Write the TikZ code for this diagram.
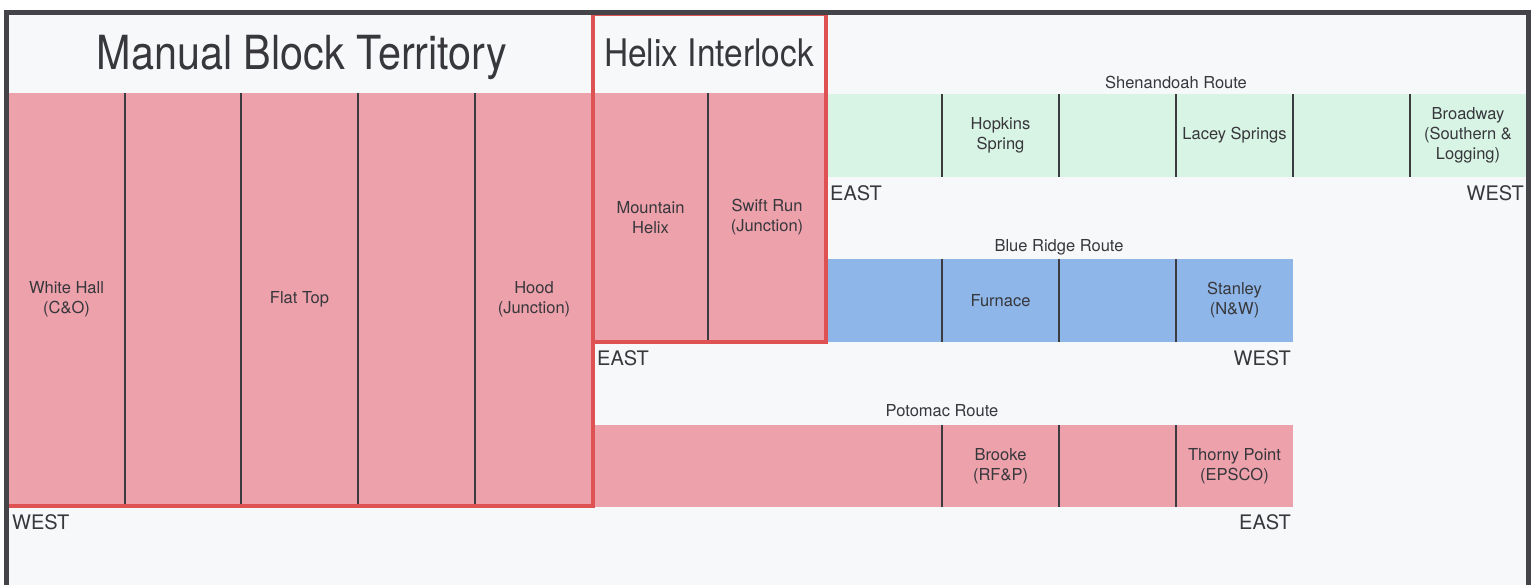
\documentclass[tikz,border=0pt]{standalone}
\usepackage{fontspec}
\setmainfont{TeX Gyre Heros}
\definecolor{pinkc}{RGB}{236,161,171}
\definecolor{redc}{RGB}{222,82,84}
\definecolor{greenc}{RGB}{216,244,229}
\definecolor{bluec}{RGB}{142,182,232}
\definecolor{bgc}{RGB}{247,248,250}
\definecolor{framec}{RGB}{68,68,72}
\definecolor{txt}{RGB}{55,55,60}
\definecolor{divc}{RGB}{60,60,64}
\tikzset{
  cellbox/.style={inner sep=0pt, outer sep=0pt, anchor=north west, align=center,
    font=\fontsize{16.5}{20}\selectfont, text=txt},
  divider/.style={draw=divc, line width=1.3pt},
  redline/.style={draw=redc, line width=4pt},
  dirlbl/.style={font=\fontsize{20}{24}\selectfont, text=txt, inner sep=0pt},
  routelbl/.style={font=\fontsize{16.5}{20}\selectfont, text=txt, inner sep=0pt},
  titlelbl/.style={text=txt, inner sep=0pt},
}
% \mkcell{name}{colour}{x1}{y1}{x2}{y2}{text}
\newcommand\mkcell[7]{%
  \node[cellbox, fill=#2, minimum width={(#5-#3)*1pt}, minimum height={(#6-#4)*1pt}] (#1) at (#3,#4) {#7};}
\begin{document}
\begin{tikzpicture}[x=1pt,y=-1pt]
\useasboundingbox (0,0) rectangle (1535,584);
\clip (0,0) rectangle (1535,584);
\fill[white] (0,0) rectangle (1535,584);
\fill[bgc] (6,12) rectangle (1528,590);

% Manual Block Territory
\mkcell{mb1}{pinkc}{8}{93}{125}{506}{White Hall\\(C\&O)}
\mkcell{mb2}{pinkc}{125}{93}{241}{506}{}
\mkcell{mb3}{pinkc}{241}{93}{358}{506}{Flat Top}
\mkcell{mb4}{pinkc}{358}{93}{475}{506}{}
\mkcell{mb5}{pinkc}{475}{93}{593}{506}{Hood\\(Junction)}
\foreach \c in {mb1,mb2,mb3,mb4} \draw[divider] (\c.north east) -- (\c.south east);

% Helix Interlock
\mkcell{hx1}{pinkc}{593}{93}{708}{342}{Mountain\\Helix}
\mkcell{hx2}{pinkc}{708}{93}{826}{342}{Swift Run\\(Junction)}
\draw[divider] (hx1.north east) -- (hx1.south east);

% Shenandoah Route
\mkcell{sh1}{greenc}{826}{94}{942}{177}{}
\mkcell{sh2}{greenc}{942}{94}{1059}{177}{Hopkins\\Spring}
\mkcell{sh3}{greenc}{1059}{94}{1176}{177}{}
\mkcell{sh4}{greenc}{1176}{94}{1293}{177}{Lacey Springs}
\mkcell{sh5}{greenc}{1293}{94}{1410}{177}{}
\mkcell{sh6}{greenc}{1410}{94}{1526}{177}{Broadway\\(Southern \&\\Logging)}
\foreach \c in {sh1,sh2,sh3,sh4,sh5} \draw[divider] (\c.north east) -- (\c.south east);

% Blue Ridge Route
\mkcell{br1}{bluec}{826}{259}{942}{342}{}
\mkcell{br2}{bluec}{942}{259}{1059}{342}{Furnace}
\mkcell{br3}{bluec}{1059}{259}{1176}{342}{}
\mkcell{br4}{bluec}{1176}{259}{1293}{342}{Stanley\\(N\&W)}
\foreach \c in {br1,br2,br3} \draw[divider] (\c.north east) -- (\c.south east);

% Potomac Route
\mkcell{po1}{pinkc}{593}{425}{942}{507}{}
\mkcell{po2}{pinkc}{942}{425}{1059}{507}{Brooke\\(RF\&P)}
\mkcell{po3}{pinkc}{1059}{425}{1176}{507}{}
\mkcell{po4}{pinkc}{1176}{425}{1293}{507}{Thorny Point\\(EPSCO)}
\foreach \c in {po1,po2,po3} \draw[divider] (\c.north east) -- (\c.south east);

% red borders
\draw[redline] (593,14) -- (593,508);
\draw[redline] (593,14) -- (826,14) -- (826,342) -- (591,342);
\draw[redline] (6,506) -- (595,506);

% titles
\node[titlelbl, font=\fontsize{47}{50}\selectfont] (tmb) at (302,57) {\scalebox{0.88}[1]{Manual Block Territory}};
\node[titlelbl, font=\fontsize{38}{42}\selectfont] (thx) at (709,53) {\scalebox{0.88}[1]{Helix Interlock}};

% route labels
\node[routelbl] (lsh) at (1176,82) {Shenandoah Route};
\node[routelbl] (lbr) at (1059,247) {Blue Ridge Route};
\node[routelbl] (lpo) at (942,411) {Potomac Route};

% direction labels
\node[dirlbl, anchor=west] (e1) at (830,193) {EAST};
\node[dirlbl, anchor=east] (w1) at (1524,193) {WEST};
\node[dirlbl, anchor=west] (e2) at (597,358) {EAST};
\node[dirlbl, anchor=east] (w2) at (1291,358) {WEST};
\node[dirlbl, anchor=east] (e3) at (1291,522) {EAST};
\node[dirlbl, anchor=west] (w3) at (12,522) {WEST};

% frame
\draw[framec, line width=5pt] (6,12) rectangle (1528,590);
\end{tikzpicture}
\end{document}
